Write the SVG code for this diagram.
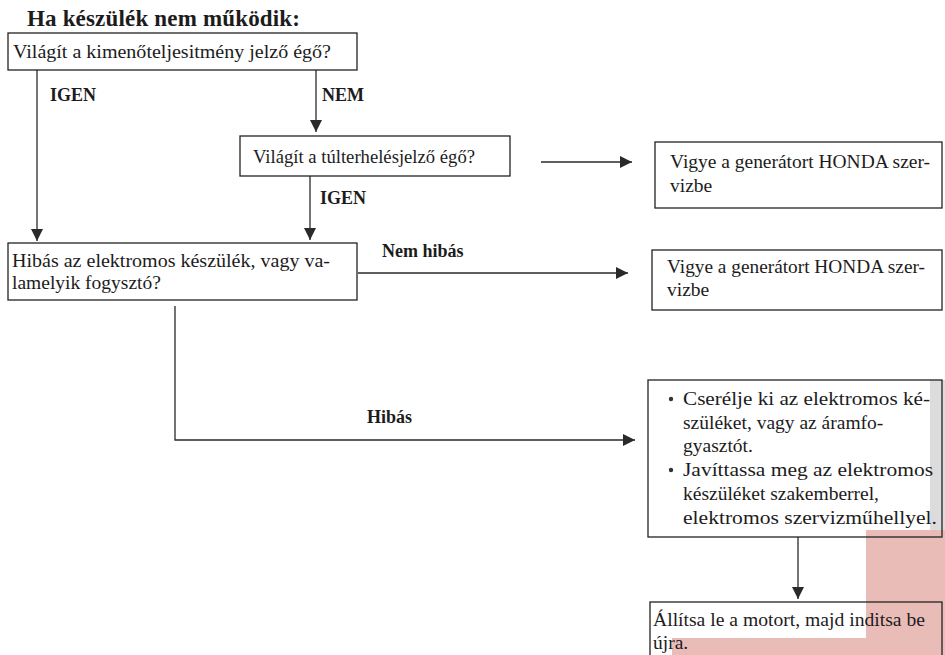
<svg xmlns="http://www.w3.org/2000/svg" width="945" height="655" viewBox="0 0 945 655">
<style>
  .box { fill: none; stroke: #222; stroke-width: 1.3; }
  .t { font-family: "Liberation Serif", "Times New Roman", serif; font-size: 19.5px; fill: #1c1c1c; }
  .lbl { font-family: "Liberation Serif", "Times New Roman", serif; font-size: 18px; font-weight: bold; fill: #1c1c1c; }
  .title { font-family: "Liberation Serif", "Times New Roman", serif; font-size: 23px; font-weight: bold; fill: #1c1c1c; }
  .edge { fill: none; stroke: #2a2a2a; stroke-width: 1.3; }
</style>
<defs>
  <marker id="ah" viewBox="0 0 12 12" refX="12" refY="6" markerWidth="12" markerHeight="12" markerUnits="userSpaceOnUse" orient="auto">
    <path d="M0,0 L12,6 L0,12 z" fill="#2a2a2a"/>
  </marker>
</defs>
<rect width="945" height="655" fill="#ffffff"/>
<g id="background">
  <rect x="930" y="380" width="15" height="150" fill="#dcdcdc"/>
  <rect x="866" y="530" width="79" height="125" fill="#e9bcb8"/>
  <rect x="672" y="638" width="194" height="17" fill="#e9bcb8"/>
</g>
<g id="title">
  <text class="title" x="27" y="26" textLength="273" lengthAdjust="spacing">Ha készülék nem működik:</text>
</g>
<g id="connectors">
  <path class="edge" d="M37,70 V241" marker-end="url(#ah)"/>
  <path class="edge" d="M316,70 V132" marker-end="url(#ah)"/>
  <path class="edge" d="M541,162 H632" marker-end="url(#ah)"/>
  <path class="edge" d="M310,176 V240" marker-end="url(#ah)"/>
  <path class="edge" d="M358,273 H628" marker-end="url(#ah)"/>
  <path class="edge" d="M175,306 V440 H635" marker-end="url(#ah)"/>
  <path class="edge" d="M798,537 V599" marker-end="url(#ah)"/>
  <text class="lbl" x="50" y="101">IGEN</text>
  <text class="lbl" x="322" y="101">NEM</text>
  <text class="lbl" x="320" y="204">IGEN</text>
  <text class="lbl" x="382" y="257">Nem hibás</text>
  <text class="lbl" x="367" y="423">Hibás</text>
</g>
<g id="q1">
  <rect class="box" x="8" y="33" width="349" height="37"/>
  <text class="t" x="13" y="58" textLength="318" lengthAdjust="spacingAndGlyphs">Világít a kimenőteljesitmény jelző égő?</text>
</g>
<g id="q2">
  <rect class="box" x="240" y="136" width="270" height="40"/>
  <text class="t" x="253" y="163" textLength="222" lengthAdjust="spacingAndGlyphs">Világít a túlterhelésjelző égő?</text>
</g>
<g id="q3">
  <rect class="box" x="8" y="243" width="349" height="57"/>
  <text class="t" x="12" y="267" textLength="318" lengthAdjust="spacingAndGlyphs">Hibás az elektromos készülék, vagy va-</text>
  <text class="t" x="12" y="289">lamelyik fogysztó?</text>
</g>
<g id="a1">
  <rect class="box" x="655" y="142" width="287" height="66"/>
  <text class="t" x="670" y="168" textLength="260" lengthAdjust="spacingAndGlyphs">Vigye a generátort HONDA szer-</text>
  <text class="t" x="670" y="192">vizbe</text>
</g>
<g id="a2">
  <rect class="box" x="652" y="250" width="290" height="60"/>
  <text class="t" x="667" y="273" textLength="258" lengthAdjust="spacingAndGlyphs">Vigye a generátort HONDA szer-</text>
  <text class="t" x="667" y="296">vizbe</text>
</g>
<g id="a3">
  <rect class="box" x="648" y="380" width="294" height="157"/>
  <circle cx="671" cy="399" r="2.2" fill="#333"/>
  <circle cx="671" cy="470" r="2.2" fill="#333"/>
  <text class="t" x="683" y="405" textLength="247" lengthAdjust="spacingAndGlyphs">Cserélje ki az elektromos ké-</text>
  <text class="t" x="683" y="429">szüléket, vagy az áramfo-</text>
  <text class="t" x="683" y="452">gyasztót.</text>
  <text class="t" x="683" y="476" textLength="250" lengthAdjust="spacingAndGlyphs">Javíttassa meg az elektromos</text>
  <text class="t" x="683" y="500">készüléket szakemberrel,</text>
  <text class="t" x="683" y="524" textLength="254" lengthAdjust="spacingAndGlyphs">elektromos szervizműhellyel.</text>
</g>
<g id="a4">
  <rect class="box" x="650" y="602" width="292" height="60"/>
  <text class="t" x="653" y="626" textLength="272" lengthAdjust="spacingAndGlyphs">Állítsa le a motort, majd inditsa be</text>
  <text class="t" x="653" y="649">újra.</text>
</g>
</svg>
